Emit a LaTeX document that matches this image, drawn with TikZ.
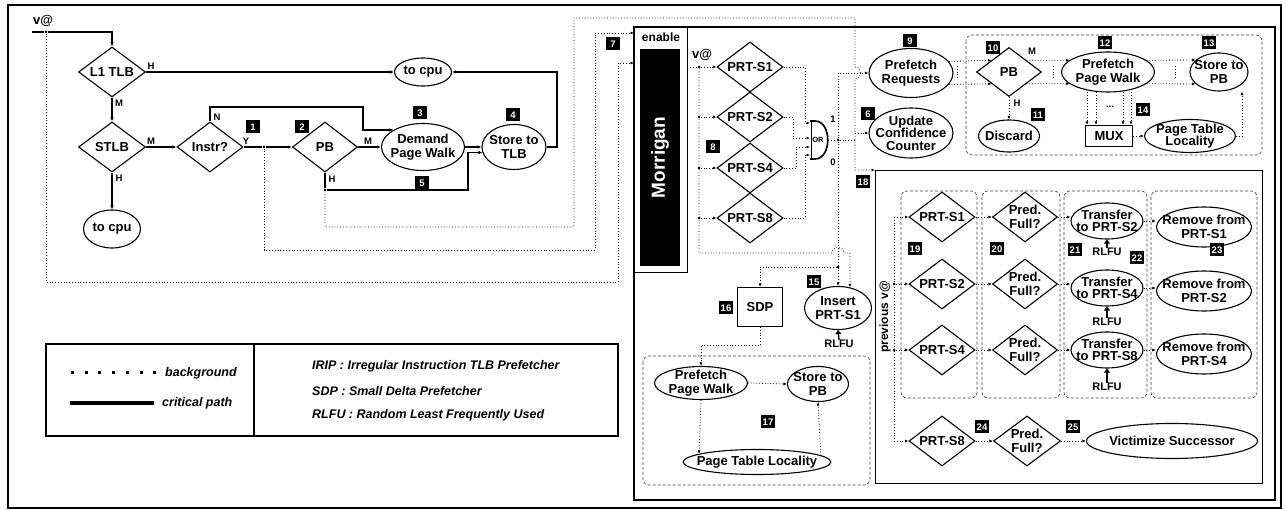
\documentclass[tikz,border=0pt]{standalone}
\usepackage{fontspec}
\setmainfont{Liberation Sans}
\usetikzlibrary{shapes.geometric,arrows.meta}

\begin{document}
\begin{tikzpicture}[x=1pt,y=-1pt,
    font=\bfseries\fontsize{13}{13.5}\selectfont,
    dia/.style={draw, diamond, line width=1.1pt, inner sep=-8pt, minimum width=66pt, minimum height=50pt, align=center},
    ell/.style={draw, ellipse, line width=1.1pt, inner sep=-8pt, align=center},
    num/.style={fill=black, text=white, inner sep=0pt, minimum width=14pt, minimum height=13pt, font=\bfseries\fontsize{9.5}{10}\selectfont},
    lbl/.style={inner sep=0pt, font=\bfseries\fontsize{9.5}{10}\selectfont},
    rl/.style={inner sep=0pt, font=\bfseries\fontsize{11}{12}\selectfont},
    leg/.style={inner sep=0pt, anchor=west, font=\bfseries\itshape\fontsize{12.5}{13}\selectfont},
    crit/.style={line width=1.2pt, -{Latex[length=4pt,width=3.5pt]}},
    bg/.style={dotted, line width=0.8pt, -{Latex[length=3.5pt,width=3pt]}},
    bgl/.style={dotted, line width=0.8pt},
    grp/.style={draw=black!75, densely dashed, line width=0.6pt, rounded corners=6pt},
    rlfu/.style={line width=1.4pt, -{Triangle[length=4pt,width=6pt]}},
    jdot/.style={circle, fill=black, inner sep=0pt, minimum size=3pt}]
\useasboundingbox (0,0) rectangle (1286,510);
\draw[line width=2.5pt] (8,5) rectangle (1281,508);

% critical path
\node[inner sep=0pt] (va) at (43,21) {v@};
\coordinate (vin) at (32,32);
\node[jdot] (vd) at (46,32) {};
\node[dia, minimum width=67pt] (l1) at (112,72) {L1 TLB};
\node[dia, minimum width=67pt] (stlb) at (112,147) {STLB};
\node[dia] (instr) at (210,147) {Instr?};
\node[dia, minimum width=65pt] (pb) at (325,147) {PB};
\node[ell, minimum width=83pt, minimum height=47pt] (dpw) at (423,147) {Demand\\Page Walk};
\node[ell, minimum width=64pt, minimum height=45pt] (stor) at (514,147) {Store to\\TLB};
\node[ell, minimum width=57pt, minimum height=28pt] (cpua) at (423,72) {to cpu};
\node[ell, minimum width=57pt, minimum height=38pt] (cpub) at (112,229) {to cpu};
\node[jdot] (yd) at (264,147) {};
\node[jdot] (hd) at (325,190) {};

\draw[line width=1.2pt] (vin) -- (vd);
\draw[crit] (vd) -| (l1.north);
\draw[crit] (l1.east) -- (cpua.west);
\draw[crit] (l1.south) -- (stlb.north);
\draw[crit] (stlb.east) -- (instr.west);
\draw[crit] (stlb.south) -- (cpub.north);
\draw[crit] (instr.north) |- (363,107) |- (dpw.150);
\draw[line width=1.2pt] (instr.east) -- (yd);
\draw[crit] (yd) -- (pb.west);
\draw[crit] (pb.east) -- (dpw.west);
\draw[crit] (dpw.east) -- (stor.west);
\draw[line width=1.2pt] (pb.south) -- (hd);
\draw[crit] (hd) -- (468,190) |- (stor.190);
\draw[crit] (stor.east) -- (557,147) |- (cpua.east);

\node[lbl] (h1) at (151,66) {H};
\node[lbl] (m1) at (119,103) {M};
\node[lbl] (m2) at (151,141) {M};
\node[lbl] (h2) at (119,178) {H};
\node[lbl] (n1) at (217,117) {N};
\node[lbl] (y1) at (246,141) {Y};
\node[lbl] (m3) at (368,141) {M};
\node[lbl] (h3) at (332,179) {H};

% background paths into Morrigan
\coordinate (enin) at (634,33);
\coordinate (vmin) at (634,63);
\draw[bg] (vd) |- (618,282) |- (vmin);
\draw[bg] (yd) |- (595,250) |- (enin);

% Morrigan
\draw[line width=2pt] (634,27) rectangle (1275,500);
\draw[line width=0.8pt] (687,27) -- (687,272) -- (634,272);
\node[inner sep=0pt, font=\bfseries\fontsize{12}{12}\selectfont] (en) at (661,37) {enable};
\node[fill=black, text=white, rotate=90, inner sep=0pt, minimum width=217pt, minimum height=40pt,
      font=\bfseries\fontsize{19}{20}\selectfont] (mor) at (660,157.5) {Morrigan};

\node[inner sep=0pt] (vb) at (702,55) {v@};
\foreach \n/\y in {1/67,2/117,4/168,8/218}
    \node[dia] (s\n) at (750,\y) {PRT-S\n};
\coordinate (vout) at (690,67);
\node[jdot] (vd1) at (699,67) {};
\draw[bg] (vout) -- (s1.west);
\foreach \n/\y in {2/117,4/168,8/218}{
    \node[jdot] (vd\n) at (699,\y) {};
    \draw[bg] (vd\n) -- (s\n.west);
}

% OR gate
\node[inner sep=0pt, font=\bfseries\fontsize{7.5}{8}\selectfont] (org) at (818,140) {OR};
\draw[line width=0.6pt] (811,121) -- (811,159);
\draw[line width=1.6pt] (810,121) -- (815,121) .. controls (832,121) and (832,159) .. (815,159) -- (810,159);
\coordinate (oi1) at (810,123);
\coordinate (oi2) at (810,138);
\coordinate (oi3) at (810,147);
\coordinate (oi4) at (810,155);
\coordinate (oo) at (828,140);
\draw[bg] (s1.east) -| (805,123) -- (oi1);
\draw[bg] (s2.east) -| (793,138) -- (oi2);
\draw[bg] (s4.east) -| (796,147) -- (oi3);
\draw[bg] (s8.east) -| (805,155) -- (oi4);

\node[ell, minimum width=84pt, minimum height=49pt] (pr) at (911,73) {Prefetch\\Requests};
\node[ell, minimum width=84pt, minimum height=50pt] (ucc) at (911,133) {Update\\[-1pt]Confidence\\[-1pt]Counter};
\node[ell, minimum width=67pt, minimum height=43pt] (ins) at (838,308) {Insert\\PRT-S1};
\node[rl] (rl0) at (839,344) {RLFU};
\draw[rlfu] (rl0.north) -- (ins.south);
\node[draw, line width=1.1pt, inner sep=0pt, minimum width=45pt, minimum height=39pt] (sdp) at (760,307) {SDP};

\node[jdot] (od) at (838,140) {};
\node[jdot] (zd) at (838,267) {};
\node[lbl] (one) at (833,119) {1};
\node[lbl] (zero) at (833,162) {0};
\draw[bgl] (oo) -- (od);
\draw[bg] (od) |- (pr.west);
\draw[bgl] (od) -- (855,140);
\draw[bg] (od) -- (ins.north);
\draw[bg] (zd) -| (sdp.north);
\draw[bg] (vd1) -- (699,253) -- (832,253) to[out=90,in=90,looseness=1.6] (844,253) -| (ins.60);

% box 18
\node[draw, line width=0.8pt, inner sep=0pt, minimum width=387pt, minimum height=313pt, anchor=north west] (b18) at (875,170) {};
\draw[bg] (hd) |- (574,227) |- (855,18) -- (855,67) to[out=0,in=0,looseness=1.6] (855,79) |- (b18.north west);
\coordinate (uc) at (855,133);
\draw[bg] (uc) -- (ucc.west);

% prefetch group
\draw[grp] (966,35) rectangle (1262,155);
\node[dia, minimum width=65pt, minimum height=49pt] (pbp) at (1009,72) {PB};
\node[ell, minimum width=61pt, minimum height=32pt] (disc) at (1009,136) {Discard};
\node[ell, minimum width=93pt, minimum height=40pt] (ppwa) at (1108,72) {Prefetch\\Page Walk};
\node[ell, minimum width=58pt, minimum height=38pt] (stpa) at (1219,72) {Store to\\PB};
\node[draw, line width=1.1pt, inner sep=0pt, minimum width=47pt, minimum height=21pt] (mux) at (1109,136) {MUX};
\node[ell, minimum width=91pt, minimum height=33pt] (ptla) at (1190,136) {Page Table\\[-2pt]Locality};
\draw[bg] (pr.17) -- (pbp.146);
\draw[bg] (pr.-17) -- (pbp.214);
\draw[bg] (pbp.34) -- (ppwa.163);
\draw[bg] (pbp.-34) -- (ppwa.197);
\draw[bg] (ppwa.17) -- (stpa.153);
\draw[bg] (ppwa.-17) -- (stpa.207);
\foreach \x in {957,1053,1175}
    \draw[bgl] (\x,66) -- (\x,78);
\draw[bg] (pbp.south) -- (disc.north);
\foreach \x in {1087,1096,1123,1131}
    \draw[bg] (\x,92) -- (\x,92 |- mux.north);
\node[lbl] (dots) at (1110,107) {...};
\draw[bg] (mux.east) -- (ptla.west);
\draw[bg] (ptla.east) -| (1242,0 |- stpa.south);
\node[lbl] (m4) at (1032,51) {M};
\node[lbl] (h4) at (1017,103) {H};

% SDP path
\draw[grp] (643,356) rectangle (870,485);
\node[ell, minimum width=93pt, minimum height=33pt] (ppwb) at (701,383) {Prefetch\\Page Walk};
\node[ell, minimum width=61pt, minimum height=35pt] (stpb) at (818,384) {Store to\\PB};
\node[ell, minimum width=141pt, minimum height=25pt] (ptlb) at (757,462) {Page Table Locality};
\draw[bg] (sdp.south) |- (701,345) -- (ppwb.north);
\draw[bg] (ppwb.east) -- (stpb.west);
\draw[bg] (ppwb.south) -- (ptlb.172);
\draw[bg] (ptlb.6) -- (stpb.south);

% update of the PRT tables
\foreach \xa/\xb in {901/977,982/1060,1064/1147,1151/1257}
    \draw[grp] (\xa,191) rectangle (\xb,398);
\foreach \r/\s/\y/\ty/\ry/\ly in {1/2/217/221/227/252,2/4/284/288/291/322,4/8/350/350/354/387}{
    \node[dia] (q\r) at (942,\y) {PRT-S\r};
    \node[dia, minimum width=65pt] (f\r) at (1025,\y) {Pred.\\Full?};
    \node[ell, minimum width=72pt, minimum height=36pt] (t\r) at (1107,\ty) {Transfer\\[-1.5pt]to PRT-S\s};
    \node[ell, minimum width=95pt, minimum height=40pt] (r\r) at (1204,\ry) {Remove from\\PRT-S\r};
    \node[rl] (rl\r) at (1107,\ly) {RLFU};
    \draw[rlfu] (rl\r.north) -- (t\r.south);
    \draw[bg] (q\r.east) -- (f\r.west);
    \draw[bg] (f\r.east) -- (f\r.east -| t\r.west);
    \draw[bg] (t\r.east) -- (t\r.east -| r\r.west);
}
\node[dia] (q8) at (942,441) {PRT-S8};
\node[dia, minimum width=67pt] (f8) at (1027,441) {Pred.\\Full?};
\node[ell, minimum width=171pt, minimum height=35pt] (vic) at (1172,441) {Victimize Successor};
\draw[bg] (q8.east) -- (f8.west);
\draw[bg] (f8.east) -- (vic.west);

\node[rotate=90, inner sep=0pt, font=\bfseries\fontsize{12}{12}\selectfont] (prev) at (885,317) {previous v@};
\coordinate (pv1) at (894,217);
\draw[bg] (pv1) -- (q1.west);
\draw[bg] (pv1) |- (q8.west);
\foreach \r/\y in {2/284,4/350}{
    \node[jdot] (pv\r) at (894,\y) {};
    \draw[bg] (pv\r) -- (q\r.west);
}

% step numbers
\foreach \k/\x/\y in {1/253/127,2/302/127,3/420/113,4/513/115,5/422/183,6/868/114,7/613/44,
    8/713/147,9/910/41,10/993/48,11/1038/115,12/1105/43,13/1209/43,14/1143/110,15/814/282,
    16/726/308,17/768/422,18/863/182,19/915/249,20/997/249,21/1075/250,22/1137/258,
    23/1217/250,24/982/427,25/1073/427}
    \node[num] (n\k) at (\x,\y) {\k};

% legend
\draw[line width=1.5pt] (46,344) rectangle (618,436);
\draw[line width=1.2pt] (254,344) -- (254,436);
\draw[dash pattern=on 3pt off 10.7pt, line width=3pt] (71,373) -- (157,373);
\node[leg] (lgbg) at (165,373) {background};
\draw[line width=4pt] (70,403) -- (154,403);
\node[leg] (lgcp) at (162,403) {critical path};
\node[leg] (lgi) at (312,366) {IRIP : Irregular Instruction TLB Prefetcher};
\node[leg] (lgs) at (312,391) {SDP : Small Delta Prefetcher};
\node[leg] (lgr) at (312,415) {RLFU : Random Least Frequently Used};
\end{tikzpicture}
\end{document}
